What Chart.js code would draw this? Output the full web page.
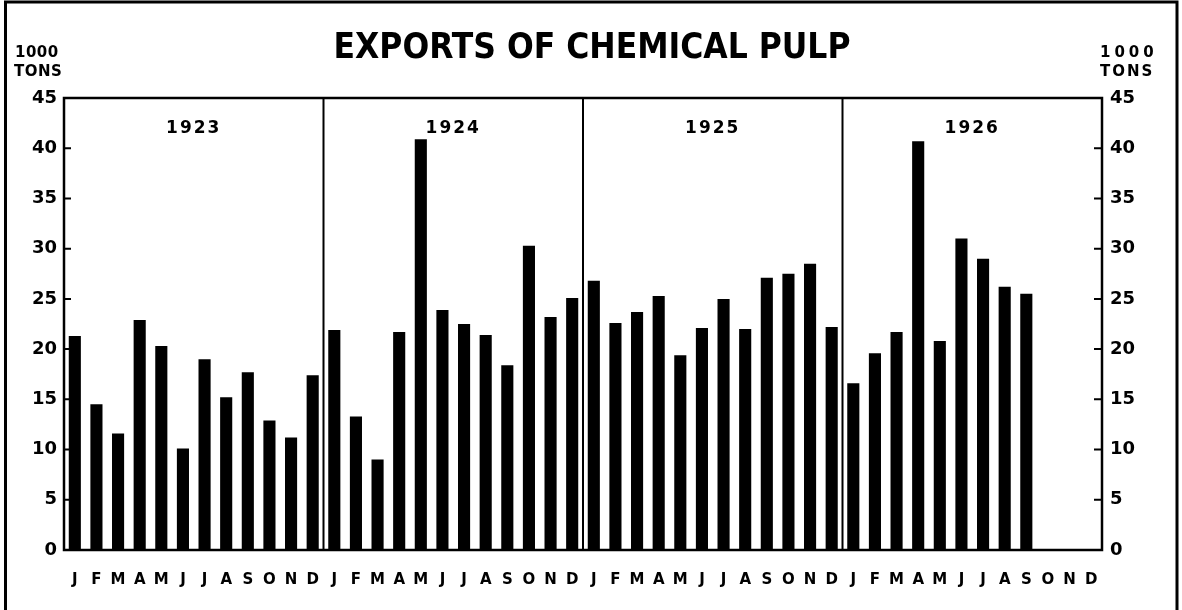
<!DOCTYPE html>
<html>
<head>
<meta charset="utf-8">
<title>Exports of Chemical Pulp</title>
<script src="https://cdn.jsdelivr.net/npm/chart.js@4"></script>
<style>
  html, body { margin: 0; padding: 0; background: #fff; }
  #wrap { width: 1182px; height: 610px; position: relative; }
</style>
</head>
<body>
<div id="wrap"><canvas id="pulpChart"></canvas></div>
<script>
const years = ['1923', '1924', '1925', '1926'];
const months = ['J', 'F', 'M', 'A', 'M', 'J', 'J', 'A', 'S', 'O', 'N', 'D'];

// thousand tons per month
const exports1923 = [21.3, 14.5, 11.6, 22.9, 20.3, 10.1, 19.0, 15.2, 17.7, 12.9, 11.2, 17.4];
const exports1924 = [21.9, 13.3, 9.0, 21.7, 40.9, 23.9, 22.5, 21.4, 18.4, 30.3, 23.2, 25.1];
const exports1925 = [26.8, 22.6, 23.7, 25.3, 19.4, 22.1, 25.0, 22.0, 27.1, 27.5, 28.5, 22.2];
const exports1926 = [16.6, 19.6, 21.7, 40.7, 20.8, 31.0, 29.0, 26.2, 25.5, null, null, null];

const yTicks = [0, 5, 10, 15, 20, 25, 30, 35, 40, 45];

const labels = years.flatMap(() => months);
const values = [...exports1923, ...exports1924, ...exports1925, ...exports1926];

const ink = '#000';
const numFont = '"DejaVu Sans", sans-serif';

// frame, year panels, inner ticks and the hand lettering
const decorations = {
    id: 'decorations',
    afterDraw(chart) {
        const { ctx, chartArea: a, scales } = chart;
        const x = scales.x, y = scales.y;
        ctx.save();
        ctx.strokeStyle = ink;
        ctx.fillStyle = ink;

        // outer border of the sheet
        ctx.lineWidth = 3;
        ctx.beginPath();
        ctx.moveTo(5.5, 610); ctx.lineTo(5.5, 2);
        ctx.lineTo(1177, 2); ctx.lineTo(1177, 610);
        ctx.stroke();

        // plot box
        ctx.lineWidth = 2.5;
        ctx.strokeRect(a.left, a.top, a.right - a.left, a.bottom - a.top);

        // year dividers
        ctx.lineWidth = 2;
        for (let k = 1; k < years.length; k++) {
            const px = (x.getPixelForValue(k * 12 - 1) + x.getPixelForValue(k * 12)) / 2;
            ctx.beginPath();
            ctx.moveTo(px, a.top); ctx.lineTo(px, a.bottom);
            ctx.stroke();
        }

        // inner tick marks on both value axes
        ctx.lineWidth = 2;
        yTicks.slice(1, -1).forEach(v => {
            const py = y.getPixelForValue(v);
            ctx.beginPath();
            ctx.moveTo(a.left, py); ctx.lineTo(a.left + 7, py);
            ctx.moveTo(a.right, py); ctx.lineTo(a.right - 8, py);
            ctx.stroke();
        });

        // year labels
        ctx.font = 'bold 17px ' + numFont;
        ctx.letterSpacing = '2px';
        ctx.textAlign = 'center';
        ctx.textBaseline = 'middle';
        years.forEach((yr, k) => {
            const px = (x.getPixelForValue(k * 12 + 5) + x.getPixelForValue(k * 12 + 6)) / 2;
            ctx.fillText(yr, px, 129);
        });

        // title
        ctx.letterSpacing = '0px';
        ctx.font = 'bold 35px "DejaVu Sans Condensed", "Liberation Sans Narrow", sans-serif';
        ctx.fillText('EXPORTS OF CHEMICAL PULP', 592, 49);

        // unit captions
        ctx.font = 'bold 15px ' + numFont;
        ctx.letterSpacing = '0.5px';
        ctx.textAlign = 'left';
        ctx.fillText('1000', 15, 53);
        ctx.fillText('TONS', 14, 72);
        ctx.letterSpacing = '4px';
        ctx.fillText('1000', 1100, 53);
        ctx.letterSpacing = '2px';
        ctx.fillText('TONS', 1100, 72);
        ctx.restore();
    }
};

new Chart(document.getElementById('pulpChart'), {
    type: 'bar',
    data: {
        labels: labels,
        datasets: [{
            label: 'Exports (1000 tons)',
            data: values,
            backgroundColor: ink,
            borderWidth: 0,
            barPercentage: 0.56,
            categoryPercentage: 1.0
        }]
    },
    options: {
        responsive: true,
        maintainAspectRatio: false,
        animation: false,
        layout: { padding: { top: 98, left: 0, right: 0, bottom: 0 } },
        plugins: {
            legend: { display: false },
            tooltip: { enabled: false }
        },
        scales: {
            x: {
                grid: { display: false, drawTicks: false },
                border: { display: false },
                ticks: {
                    color: ink,
                    font: { family: numFont, size: 15, weight: 'bold' },
                    padding: 21,
                    autoSkip: false,
                    maxRotation: 0
                },
                afterFit: (s) => { s.height = 60; }
            },
            y: {
                position: 'left',
                min: 0,
                max: 45,
                grid: { display: false, drawTicks: false },
                border: { display: false },
                ticks: {
                    stepSize: 5,
                    color: ink,
                    padding: 7,
                    font: { family: numFont, size: 18, weight: 'bold' }
                },
                afterFit: (s) => { s.width = 64; }
            },
            y2: {
                position: 'right',
                min: 0,
                max: 45,
                grid: { display: false, drawTicks: false },
                border: { display: false },
                ticks: {
                    stepSize: 5,
                    color: ink,
                    padding: 8,
                    font: { family: numFont, size: 18, weight: 'bold' }
                },
                afterFit: (s) => { s.width = 80; }
            }
        }
    },
    plugins: [decorations]
});
</script>
</body>
</html>
